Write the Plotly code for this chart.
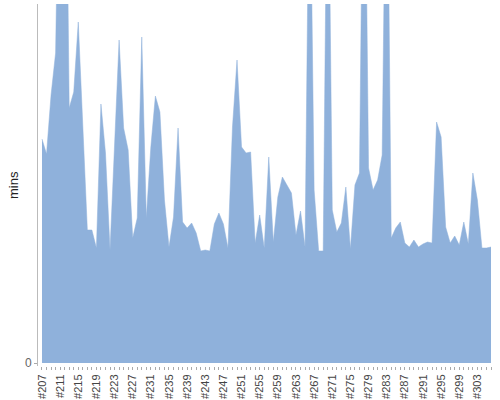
import plotly.graph_objects as go

builds = ["#%d" % n for n in range(207, 307)]
mins = [
    22.4, 20.9, 26.8, 31.0, 60.0, 67.0, 25.5, 27.1, 34.1, 24.3,
    13.3, 13.3, 11.5, 25.9, 21.0, 11.3, 22.0, 32.3, 23.5, 21.3,
    12.5, 14.5, 32.6, 14.5, 21.6, 26.7, 25.1, 16.3, 11.6, 14.6,
    23.5, 14.1, 13.5, 14.0, 13.0, 11.2, 11.3, 11.2, 13.9, 15.0,
    13.9, 11.5, 23.6, 30.3, 21.6, 21.0, 21.1, 12.0, 14.8, 11.5,
    20.6, 12.1, 16.6, 18.6, 17.8, 17.0, 12.8, 15.2, 11.6, 55.0,
    17.3, 11.2, 11.2, 58.0, 15.3, 13.1, 14.0, 17.6, 11.4, 17.8,
    19.0, 62.0, 19.5, 17.3, 18.3, 20.8, 60.0, 12.5, 13.5, 14.1,
    12.0, 11.6, 12.3, 11.6, 11.9, 12.1, 12.0, 24.1, 22.6, 13.6,
    12.0, 12.7, 11.8, 14.1, 11.9, 19.0, 16.3, 11.5, 11.5, 11.6,
]
tick_labels = [b if i % 4 == 0 else "" for i, b in enumerate(builds)]
y_title = "mins"

fill_color = "rgb(143,177,219)"

fig = go.Figure(
    go.Scatter(
        x=builds,
        y=mins,
        mode="lines",
        line=dict(color=fill_color, width=0.5),
        fill="tozeroy",
        fillcolor=fill_color,
        hoverinfo="x+y",
    )
)

fig.update_layout(
    width=500,
    height=400,
    margin=dict(l=38, r=5, t=4, b=34),
    paper_bgcolor="white",
    plot_bgcolor="white",
    showlegend=False,
    font=dict(family="Liberation Sans, Arial, sans-serif", color="#444"),
    annotations=[
        dict(
            text=y_title,
            xref="paper",
            yref="paper",
            x=-25 / 457,
            y=0.5,
            xanchor="center",
            yanchor="middle",
            textangle=-90,
            showarrow=False,
            font=dict(size=13, color="#222"),
        )
    ],
)

fig.update_xaxes(
    type="category",
    automargin=False,
    range=[-0.88, 99.88],
    tickmode="array",
    tickvals=builds,
    ticktext=tick_labels,
    tickangle=-90,
    ticks="outside",
    ticklen=3,
    tickwidth=1,
    tickcolor="#aaa",
    tickfont=dict(size=11, color="#444"),
    showgrid=False,
    showline=False,
    zeroline=False,
)

fig.update_yaxes(
    automargin=False,
    range=[-0.3, 35.9],
    tickmode="array",
    tickvals=[0],
    ticktext=["0"],
    ticks="outside",
    ticklen=3,
    tickcolor="#aaa",
    tickfont=dict(size=12, color="#666"),
    showgrid=False,
    zeroline=False,
    showline=True,
    linecolor="#bbb",
    linewidth=1,
)

fig.write_html(
    "out.html",
    config={"displayModeBar": False},
    post_script="document.body.style.margin='0';document.body.style.overflow='hidden';",
)
